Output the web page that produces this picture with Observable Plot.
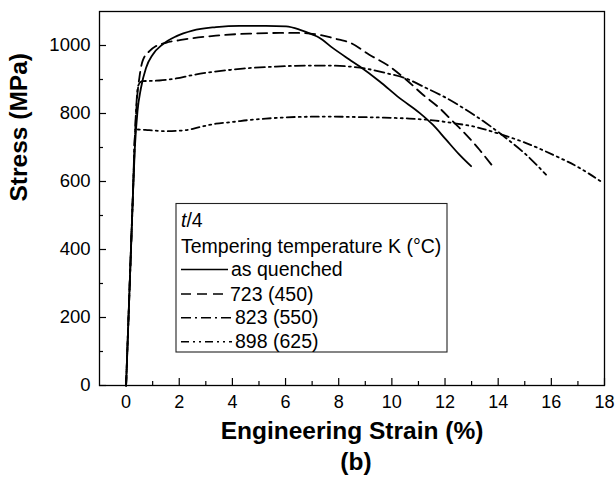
<!DOCTYPE html>
<html>
<head>
<meta charset="utf-8">
<script src="https://cdn.jsdelivr.net/npm/d3@7"></script>
<script src="https://cdn.jsdelivr.net/npm/@observablehq/plot@0.6"></script>
<style>
  html, body { margin: 0; padding: 0; background: #fff; }
  #chart svg { display: block; }
</style>
</head>
<body>
<div id="chart"></div>
<script>
// Engineering stress–strain curves at t/4, by tempering temperature
const seriesNames = ["as quenched", "723 (450)", "823 (550)", "898 (625)"];
const seriesDash = [null, "10,6", "10,4,2,4", "8,4,2,4,2,4"];

const strainQuenched = [0, 0.25, 0.33, 0.43, 0.56, 0.75, 1.00, 1.37, 1.88, 2.50, 3.38, 4.26, 5.26, 6.02, 6.52, 7.02, 7.27, 7.77, 8.40, 8.78, 9.53, 10.28, 11.04, 11.54, 12.04, 12.54, 12.98];
const stressQuenched = [0, 545, 699, 807, 875, 934, 973, 1003, 1027, 1044, 1054, 1058, 1058, 1056, 1047, 1032, 1023, 993, 959, 939, 895, 846, 802, 767, 723, 679, 645];

const strain723 = [0, 0.25, 0.34, 0.42, 0.50, 0.62, 0.87, 1.12, 1.50, 2.13, 3.38, 4.64, 5.89, 6.52, 7.15, 8.02, 8.40, 9.15, 9.90, 10.53, 11.16, 11.79, 12.29, 12.79, 13.29, 13.79];
const stress723 = [0, 545, 740, 850, 905, 954, 983, 998, 1008, 1017, 1029, 1035, 1037, 1037, 1033, 1017, 1009, 973, 939, 900, 856, 816, 777, 738, 694, 645];

const strain823 = [0, 0.25, 0.36, 0.45, 0.55, 0.62, 1.25, 1.88, 2.50, 3.13, 3.76, 4.39, 5.64, 6.89, 7.60, 8.40, 9.02, 9.78, 10.53, 11.29, 12.04, 12.79, 13.54, 14.29, 15.05, 15.80];
const stress823 = [0, 545, 785, 880, 893, 895, 897, 903, 913, 921, 927, 932, 938, 941, 941, 938, 932, 919, 903, 875, 846, 811, 772, 728, 679, 620];

const strain898 = [0, 0.25, 0.34, 0.38, 0.87, 1.50, 2.25, 2.76, 3.38, 4.01, 4.64, 5.26, 6.52, 7.77, 8.40, 9.65, 10.66, 11.54, 12.29, 13.17, 14.05, 15.05, 16.05, 17.06, 17.94];
const stress898 = [0, 545, 740, 753, 751, 748, 751, 760, 770, 775, 781, 785, 790, 791, 790, 788, 785, 780, 772, 760, 740, 713, 679, 640, 596];

const xTicks = [0, 2, 4, 6, 8, 10, 12, 14, 16, 18];
const xMinor = [1, 3, 5, 7, 9, 11, 13, 15, 17];
const yTicks = [0, 200, 400, 600, 800, 1000];
const yMinor = [100, 300, 500, 700, 900];

const xTitle = "Engineering Strain (%)";
const yTitle = "Stress (MPa)";
const panelTag = "(b)";
const legendHeading = "Tempering temperature K (°C)";

const seriesStrain = [strainQuenched, strain723, strain823, strain898];
const seriesStress = [stressQuenched, stress723, stress823, stress898];
const series = seriesNames.map((name, i) =>
  seriesStrain[i].map((s, j) => ({name, strain: s, stress: seriesStress[i][j]}))
);

const W = 615, H = 487;
const mL = 99, mR = 11, mT = 11, mB = 102;
const frameW = W - mL - mR, frameH = H - mT - mB;
const font = "'Liberation Sans', Arial, Helvetica, sans-serif";

const curveMarks = series.map((rows, i) =>
  Plot.line(rows, {
    x: "strain", y: "stress", curve: "monotone-x",
    stroke: "#000", strokeWidth: 1.8,
    strokeDasharray: seriesDash[i] || undefined
  })
);

const chart = Plot.plot({
  width: W, height: H,
  marginLeft: mL, marginRight: mR, marginTop: mT, marginBottom: mB,
  style: {fontFamily: font, fontSize: "18.5px", color: "#000", background: "#fff"},
  x: {domain: [-1, 18]},
  y: {domain: [0, 1100]},
  marks: [
    Plot.axisX({ticks: xTicks, tickSize: 0, tickPadding: 10, label: null, fontSize: 18, tickFormat: d => String(d)}),
    Plot.axisY({ticks: yTicks, tickSize: 0, tickPadding: 9, label: null, tickFormat: d => String(d)}),
    Plot.tickX(xTicks, {x: d => d, insetTop: frameH - 7, stroke: "#000", strokeWidth: 1.2}),
    Plot.tickX(xMinor, {x: d => d, insetTop: frameH - 4, stroke: "#000", strokeWidth: 1.2}),
    Plot.tickY(yTicks, {y: d => d, insetRight: frameW - 7, stroke: "#000", strokeWidth: 1.2}),
    Plot.tickY(yMinor, {y: d => d, insetRight: frameW - 4, stroke: "#000", strokeWidth: 1.2}),
    ...curveMarks,
    Plot.frame({stroke: "#000", strokeWidth: 1.3}),
    Plot.text([xTitle], {text: d => d, frameAnchor: "bottom", dy: 53, fontSize: 24.5, fontWeight: "bold", fill: "#000"}),
    Plot.text([panelTag], {text: d => d, frameAnchor: "bottom", dy: 84, dx: 4, fontSize: 24.5, fontWeight: "bold", fill: "#000"}),
    Plot.text([yTitle], {text: d => d, frameAnchor: "left", rotate: -90, dx: -80, dy: 3, fontSize: 24.5, fontWeight: "bold", fill: "#000"})
  ]
});

// Boxed legend inside the plot area
const svg = d3.select(chart);
const lg = svg.append("g")
  .attr("font-family", font).attr("font-size", 19.5)
  .attr("text-anchor", "start").attr("fill", "#000");
lg.append("rect")
  .attr("x", 176).attr("y", 203.5).attr("width", 271).attr("height", 148.5)
  .attr("fill", "#fff").attr("stroke", "#222").attr("stroke-width", 1.1);
const t4 = lg.append("text").attr("x", 181).attr("y", 226.5);
t4.append("tspan").attr("font-style", "italic").text("t");
t4.append("tspan").text("/4");
lg.append("text").attr("x", 181).attr("y", 252.5).text(legendHeading);

const rowY = [269.5, 294, 317.7, 341.7];
const sampleEnd = [228, 228, 232, 232];
const textX = [231, 230, 235, 235];
seriesNames.forEach((name, i) => {
  lg.append("line")
    .attr("x1", 181).attr("x2", sampleEnd[i]).attr("y1", rowY[i]).attr("y2", rowY[i])
    .attr("stroke", "#000").attr("stroke-width", 1.6)
    .attr("stroke-dasharray", seriesDash[i]);
  lg.append("text").attr("x", textX[i]).attr("y", rowY[i] + 6.7).text(name);
});

document.getElementById("chart").appendChild(chart);
</script>
</body>
</html>
